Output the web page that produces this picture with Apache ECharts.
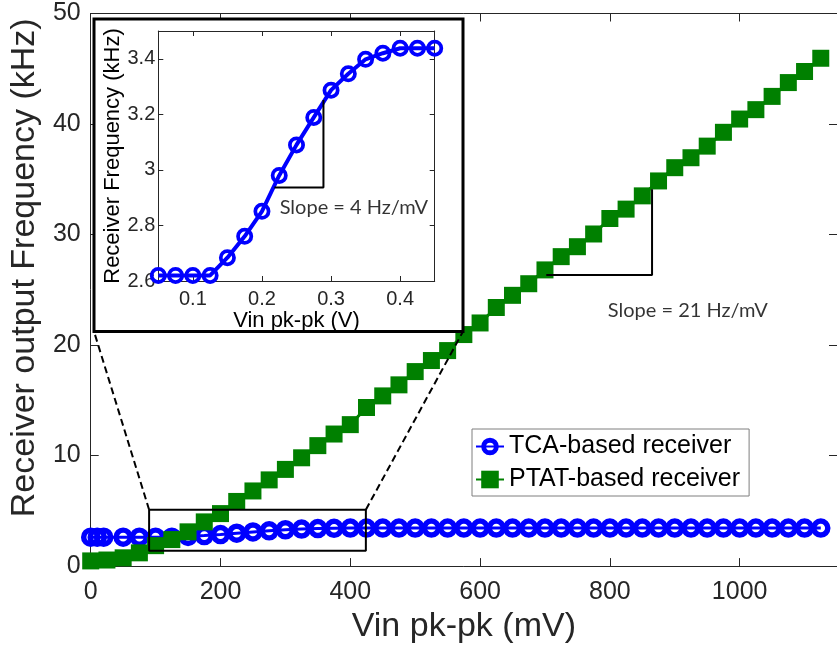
<!DOCTYPE html>
<html>
<head>
<meta charset="utf-8">
<script src="https://cdn.jsdelivr.net/npm/echarts@6/dist/echarts.min.js"></script>
<style>
  html, body { margin: 0; padding: 0; background: #fff; }
  #chart { width: 837px; height: 649px; }
</style>
</head>
<body>
<div id="chart"></div>
<script>
// PTAT-based receiver: input amplitude (mV) vs output frequency (kHz)
const ptatVin = [0, 25, 50, 75, 100, 125, 150, 175, 200, 225, 250, 275, 300, 325, 350, 375,
  400, 425, 450, 475, 500, 525, 550, 575, 600, 625, 650, 675, 700, 725, 750, 775,
  800, 825, 850, 875, 900, 925, 950, 975, 1000, 1025, 1050, 1075, 1100, 1125];
const ptatFreq = [0.47, 0.55, 0.75, 1.2, 1.85, 2.4, 3.1, 4.0, 4.75, 5.85, 6.8, 7.8, 8.75, 9.8, 10.9, 11.95,
  12.8, 14.35, 15.4, 16.4, 17.6, 18.6, 19.5, 20.95, 22.0, 23.4, 24.5, 25.55, 26.8, 28.0, 28.9, 30.05,
  31.45, 32.3, 33.5, 34.85, 36.05, 36.95, 38.0, 39.25, 40.45, 41.3, 42.5, 43.75, 44.75, 45.95];

// TCA-based receiver: input amplitude (mV) vs output frequency (kHz)
const tcaVin = [0, 10, 20, 50, 75, 100, 125, 150, 175, 200, 225, 250, 275, 300, 325, 350, 375,
  400, 425, 450, 475, 500, 525, 550, 575, 600, 625, 650, 675, 700, 725, 750, 775,
  800, 825, 850, 875, 900, 925, 950, 975, 1000, 1025, 1050, 1075, 1100, 1125];
const tcaFreq = [2.62, 2.62, 2.62, 2.62, 2.62, 2.62, 2.62, 2.68, 2.76, 2.85, 2.98, 3.09, 3.19, 3.29, 3.35, 3.40, 3.42,
  3.44, 3.44, 3.44, 3.44, 3.44, 3.44, 3.44, 3.44, 3.44, 3.44, 3.44, 3.44, 3.44, 3.44, 3.44, 3.44,
  3.44, 3.44, 3.44, 3.44, 3.44, 3.44, 3.44, 3.44, 3.44, 3.44, 3.44, 3.44, 3.44, 3.44];

// Close-up of the TCA transition: input amplitude (V) vs frequency (kHz)
const insetVin = [0.05, 0.075, 0.1, 0.125, 0.15, 0.175, 0.2, 0.225, 0.25, 0.275, 0.3, 0.325, 0.35, 0.375, 0.4, 0.425, 0.45];
const insetFreq = [2.62, 2.62, 2.62, 2.62, 2.684, 2.761, 2.851, 2.98, 3.09, 3.189, 3.287, 3.346, 3.398, 3.42, 3.438, 3.438, 3.438];

// Tick values
const mainXTicks = [0, 200, 400, 600, 800, 1000];
const mainYTicks = [0, 10, 20, 30, 40, 50];
const insetXTicks = [0.1, 0.2, 0.3, 0.4];
const insetYTicks = [2.6, 2.8, 3, 3.2, 3.4];

// Annotations, in data coordinates
const zoomBox = [[90, 5.1], [424, 5.1], [424, 1.38], [90, 1.38], [90, 5.1]];
const mainSlope = [[702, 26.35], [865, 26.35], [865, 34.1]];
const mainSlopeText = [[920, 23.1]];
const insetSlope = [[0.218, 2.937], [0.289, 2.937], [0.289, 3.252]];
const insetSlopeText = [[0.333, 2.863]];

const pairs = (xs, ys) => xs.map((x, i) => [x, ys[i]]);

const FONT = "'Liberation Sans', Arial, Helvetica, sans-serif";
const AXIS_COLOR = '#262626';
const BLUE = '#0000ff';
const GREEN = '#008000';

// Open-circle markers as filled rings, so the connecting line shows through the hole
function ringPath(inner) {
  const a = 10 - inner, b = 10 + inner;
  return 'path://M0,10A10,10,0,1,0,20,10A10,10,0,1,0,0,10Z' +
    'M' + a + ',10A' + inner + ',' + inner + ',0,1,1,' + b + ',10A' + inner + ',' + inner + ',0,1,1,' + a + ',10Z';
}
const RING_MAIN = ringPath(4.4);
const RING_INSET = ringPath(5.6);

// Inset frame (pixels)
const frame = { x: 94, y: 19, w: 369, h: 312.5 };

function axis(opts) {
  const base = {
    type: 'value',
    gridIndex: opts.grid,
    position: opts.position,
    min: opts.min,
    max: opts.max,
    z: opts.z || 0,
    splitLine: { show: false },
    axisLine: { show: true, onZero: false, lineStyle: { color: AXIS_COLOR, width: 1 } },
    axisTick: { show: true, inside: true, length: opts.tickLen, customValues: opts.ticks,
      lineStyle: { color: AXIS_COLOR, width: 1 } },
    axisLabel: { show: !!opts.labels, customValues: opts.ticks, fontFamily: FONT,
      fontSize: opts.fontSize, color: AXIS_COLOR, margin: opts.margin || 8,
      formatter: (v) => String(v) }
  };
  if (opts.name) {
    base.name = opts.name;
    base.nameLocation = 'middle';
    base.nameGap = opts.nameGap;
    base.nameTextStyle = Object.assign({ fontFamily: FONT, fontSize: opts.nameSize, color: opts.nameColor || AXIS_COLOR },
      opts.nameStyle || {});
  }
  return base;
}

const chart = echarts.init(document.getElementById('chart'), null, { renderer: 'canvas' });

chart.setOption({
  animation: false,
  backgroundColor: '#fff',
  grid: [
    { left: 85.5, top: 13.5, width: 755.5, height: 555 },
    { left: 158.3, top: 31, width: 276.4, height: 250, z: 15 }
  ],
  xAxis: [
    axis({ grid: 0, position: 'bottom', min: 0, max: 1150, ticks: mainXTicks, tickLen: 8, labels: true,
      fontSize: 25, margin: 14, name: 'Vin pk-pk (mV)', nameGap: 40, nameSize: 34 }),
    axis({ grid: 0, position: 'top', min: 0, max: 1150, ticks: mainXTicks, tickLen: 8 }),
    axis({ grid: 1, position: 'bottom', min: 0.05, max: 0.45, ticks: insetXTicks, tickLen: 5, labels: true,
      fontSize: 20, margin: 8, z: 15, name: 'Vin pk-pk (V)', nameGap: 26, nameSize: 22, nameColor: '#000' }),
    axis({ grid: 1, position: 'top', min: 0.05, max: 0.45, ticks: insetXTicks, tickLen: 5, z: 15 })
  ],
  yAxis: [
    axis({ grid: 0, position: 'left', min: 0, max: 50, ticks: mainYTicks, tickLen: 8, labels: true,
      fontSize: 25, margin: 10, name: 'Receiver output Frequency (kHz)', nameGap: 37, nameSize: 34,
      nameStyle: { padding: [0, 0, 0, 44] } }),
    axis({ grid: 0, position: 'right', min: 0, max: 50, ticks: mainYTicks, tickLen: 8 }),
    axis({ grid: 1, position: 'left', min: 2.6, max: 3.5, ticks: insetYTicks, tickLen: 5, labels: true,
      fontSize: 20, margin: 3, z: 15, name: 'Receiver Frequency (kHz)', nameGap: 34, nameSize: 22, nameColor: '#000' }),
    axis({ grid: 1, position: 'right', min: 2.6, max: 3.5, ticks: insetYTicks, tickLen: 5, z: 15 })
  ],
  legend: {
    data: ['TCA-based receiver', 'PTAT-based receiver'],
    orient: 'vertical',
    left: 472,
    top: 429,
    padding: [5, 9, 4, 3],
    itemGap: 8,
    itemWidth: 28,
    itemHeight: 22,
    backgroundColor: '#fff',
    borderColor: '#7f7f7f',
    borderWidth: 1,
    borderRadius: 0,
    textStyle: { fontFamily: FONT, fontSize: 25, color: '#000' }
  },
  series: [
    {
      name: 'TCA-based receiver', type: 'line', xAxisIndex: 0, yAxisIndex: 0, z: 2, clip: false,
      data: pairs(tcaVin, tcaFreq),
      symbol: RING_MAIN, symbolSize: 19.5,
      itemStyle: { color: BLUE },
      lineStyle: { color: BLUE, width: 3 }
    },
    {
      name: 'PTAT-based receiver', type: 'line', xAxisIndex: 0, yAxisIndex: 0, z: 3, clip: false,
      data: pairs(ptatVin, ptatFreq),
      symbol: 'rect', symbolSize: 17,
      itemStyle: { color: GREEN },
      lineStyle: { color: GREEN, width: 3 }
    },
    {
      name: 'zoom', type: 'line', xAxisIndex: 0, yAxisIndex: 0, z: 4, silent: true,
      data: zoomBox, symbol: 'none', lineStyle: { color: '#000', width: 2 }
    },
    {
      name: 'slope', type: 'line', xAxisIndex: 0, yAxisIndex: 0, z: 4, silent: true,
      data: mainSlope, symbol: 'none', lineStyle: { color: '#000', width: 2 }
    },
    {
      name: 'slopeText', type: 'scatter', xAxisIndex: 0, yAxisIndex: 0, z: 4, silent: true,
      data: mainSlopeText, symbolSize: 0,
      label: { show: true, position: 'inside', formatter: 'Slope = 21 Hz/mV',
        fontFamily: "Lato, 'Open Sans', sans-serif", fontSize: 20, color: '#000' }
    },
    {
      name: 'TCA close-up', type: 'line', xAxisIndex: 2, yAxisIndex: 2, z: 20, clip: false,
      data: pairs(insetVin, insetFreq),
      symbol: RING_INSET, symbolSize: 17,
      itemStyle: { color: BLUE },
      lineStyle: { color: BLUE, width: 4 }
    },
    {
      name: 'insetSlope', type: 'line', xAxisIndex: 2, yAxisIndex: 2, z: 20, silent: true,
      data: insetSlope, symbol: 'none', lineStyle: { color: '#000', width: 2 }
    },
    {
      name: 'insetSlopeText', type: 'scatter', xAxisIndex: 2, yAxisIndex: 2, z: 20, silent: true,
      data: insetSlopeText, symbolSize: 0,
      label: { show: true, position: 'inside', formatter: 'Slope = 4 Hz/mV',
        fontFamily: "Lato, 'Open Sans', sans-serif", fontSize: 20, color: '#000' }
    }
  ]
});

// White inset panel and dashed connectors from the zoom box to the panel
const topLeft = chart.convertToPixel({ xAxisIndex: 0, yAxisIndex: 0 }, zoomBox[0]);
const topRight = chart.convertToPixel({ xAxisIndex: 0, yAxisIndex: 0 }, zoomBox[1]);
const dash = { stroke: '#000', lineWidth: 2, lineDash: [7, 4] };
chart.setOption({
  graphic: [
    { type: 'rect', z: 10, shape: { x: frame.x, y: frame.y, width: frame.w, height: frame.h },
      style: { fill: '#fff', stroke: '#000', lineWidth: 3 } },
    { type: 'line', z: 10, shape: { x1: topLeft[0], y1: topLeft[1], x2: frame.x, y2: frame.y + frame.h }, style: dash },
    { type: 'line', z: 10, shape: { x1: topRight[0], y1: topRight[1], x2: frame.x + frame.w, y2: frame.y + frame.h }, style: dash }
  ]
});
</script>
</body>
</html>
